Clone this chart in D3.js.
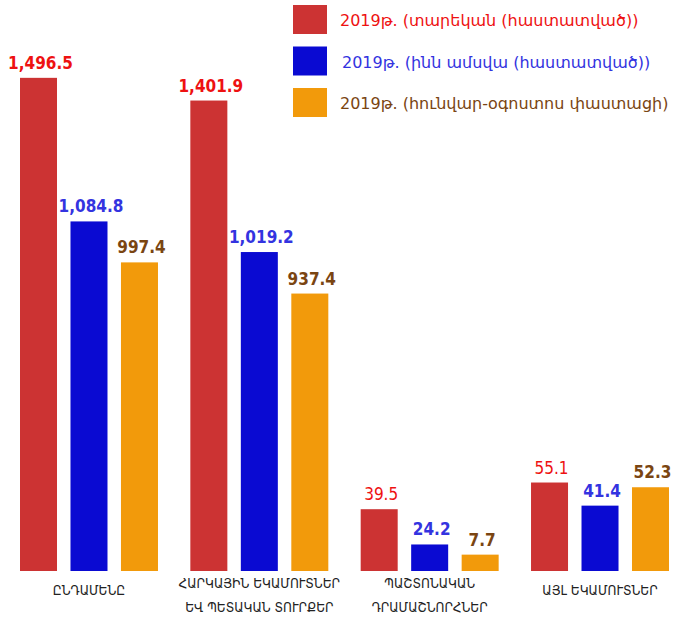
<!DOCTYPE html>
<html>
<head>
<meta charset="utf-8">
<script src="https://cdn.jsdelivr.net/npm/d3@7"></script>
<style>
  body { margin: 0; background: #fff; }
  svg { display: block; }
</style>
</head>
<body>
<div id="chart"></div>
<script>
const categories = [
  ["ԸՆԴԱՄԵՆԸ"],
  ["ՀԱՐԿԱՅԻՆ ԵԿԱՄՈՒՏՆԵՐ", "ԵՎ ՊԵՏԱԿԱՆ ՏՈՒՐՔԵՐ"],
  ["ՊԱՇՏՈՆԱԿԱՆ", "ԴՐԱՄԱՇՆՈՐՀՆԵՐ"],
  ["ԱՅԼ ԵԿԱՄՈՒՏՆԵՐ"]
];
const seriesNames = [
  "2019թ. (տարեկան (հաստատված))",
  "2019թ. (ինն ամսվա (հաստատված))",
  "2019թ. (հունվար-օգոստոս փաստացի)"
];
const annual = [1496.5, 1401.9, 39.5, 55.1];
const nineMonths = [1084.8, 1019.2, 24.2, 41.4];
const janAug = [997.4, 937.4, 7.7, 52.3];

const barColors = ["#cc3333", "#0a0ad2", "#f29a0b"];
const textColors = ["#ee1111", "#3333e0", "#7a4512"];

(() => {
  const width = 674;
  const height = 618;
  const baseline = 571;

  const svg = d3.select("#chart").append("svg")
    .attr("width", width).attr("height", height);

  const series = [annual, nineMonths, janAug];

  const x0 = d3.scaleBand()
    .domain(d3.range(categories.length))
    .range([20, 669])
    .paddingInner(0.19)
    .paddingOuter(0);

  const x1 = d3.scaleBand()
    .domain(d3.range(series.length))
    .range([0, x0.bandwidth()])
    .paddingInner(0.267);

  // the source chart uses a broken (non-uniform) value axis
  const y = d3.scaleLinear()
    .domain([0, 8, 25, 40, 56, 940, 1000, 1090, 1400, 1500])
    .range([0, 17, 27, 63, 90, 278, 310, 352, 470, 494].map(h => baseline - h));

  const fmt = d3.format(",.1f");

  const groups = svg.selectAll("g.grp")
    .data(categories)
    .join("g")
    .attr("class", "grp")
    .attr("transform", (d, i) => `translate(${x0(i)},0)`);

  groups.each(function (cat, ci) {
    const g = d3.select(this);
    series.forEach((vals, si) => {
      const v = vals[ci];
      g.append("rect")
        .attr("x", x1(si))
        .attr("y", y(v))
        .attr("width", x1.bandwidth())
        .attr("height", baseline - y(v))
        .attr("fill", barColors[si]);
      const light = ci >= 2 && si === 0;
      g.append("text")
        .attr("x", x1(si) + x1.bandwidth() / 2 + 2)
        .attr("y", y(v) - 9)
        .attr("text-anchor", "middle")
        .attr("fill", textColors[si])
        .style("font-family", "'DejaVu Sans Condensed', 'DejaVu Sans', sans-serif")
        .style("font-size", "17px")
        .style("font-weight", light ? "normal" : "bold")
        .text(fmt(v));
    });

    const txt = g.append("text")
      .attr("text-anchor", "middle")
      .attr("fill", "#222")
      .style("font-family", "'DejaVu Sans Condensed', 'DejaVu Sans', sans-serif")
      .style("font-size", "13.5px");
    cat.forEach((l, li) => {
      txt.append("tspan")
        .attr("x", x0.bandwidth() / 2)
        .attr("y", (cat.length === 1 ? 595 : 588) + li * 24)
        .text(l);
    });
  });

  // legend
  const legend = svg.append("g").attr("transform", "translate(293,5)");
  seriesNames.forEach((name, i) => {
    const row = legend.append("g").attr("transform", `translate(0,${i * 41.5})`);
    row.append("rect")
      .attr("width", 34).attr("height", 29)
      .attr("fill", barColors[i]);
    row.append("text")
      .attr("x", i === 1 ? 49 : 47)
      .attr("y", 21)
      .attr("fill", textColors[i])
      .style("font-family", "'DejaVu Sans', sans-serif")
      .style("font-size", "16px")
      .text(name);
  });
})();
</script>
</body>
</html>
